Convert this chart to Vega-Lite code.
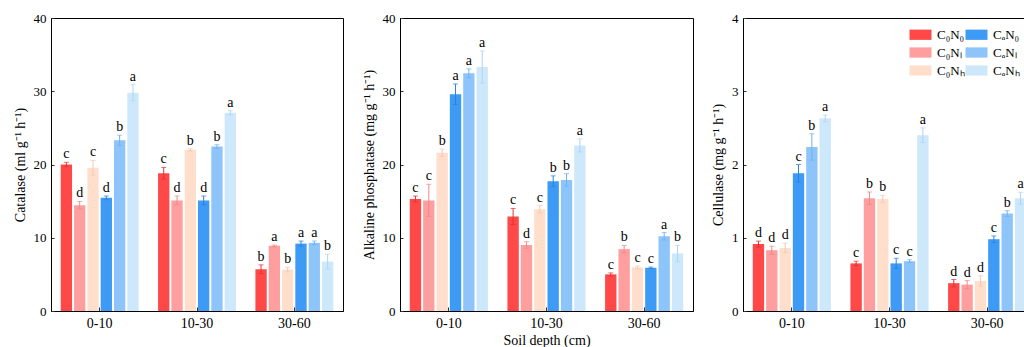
{
  "$schema": "https://vega.github.io/schema/vega-lite/v6.json",
  "background": "white",
  "padding": {"left": 12, "top": 11, "right": 0, "bottom": 0},
  "autosize": {"type": "pad"},
  "config": {
    "font": "Liberation Serif",
    "view": {"stroke": "black", "strokeWidth": 1},
    "axis": {"labelFont": "Liberation Serif", "titleFont": "Liberation Serif", "labelFontSize": 13, "titleFontSize": 14, "titleFontWeight": "normal", "labelColor": "black", "titleColor": "black", "domainColor": "black", "tickColor": "#333333", "grid": false},
    "axisX": {"labelFontSize": 14},
    "legend": {"labelFont": "Liberation Serif", "labelFontSize": 13, "labelColor": "black"},
    "concat": {"spacing": 17}
  },
  "datasets": {
    "d": [
      {"enzyme": "Catalase", "depth": "0-10", "trt": "C₀N₀", "mean": 20.0, "lo": 19.7, "hi": 20.3, "sig": "c"},
      {"enzyme": "Catalase", "depth": "0-10", "trt": "C₀Nₗ", "mean": 14.45, "lo": 13.95, "hi": 14.95, "sig": "d"},
      {"enzyme": "Catalase", "depth": "0-10", "trt": "C₀Nₕ", "mean": 19.55, "lo": 18.55, "hi": 20.55, "sig": "c"},
      {"enzyme": "Catalase", "depth": "0-10", "trt": "CₐN₀", "mean": 15.45, "lo": 15.2, "hi": 15.7, "sig": "d"},
      {"enzyme": "Catalase", "depth": "0-10", "trt": "CₐNₗ", "mean": 23.3, "lo": 22.6, "hi": 24.0, "sig": "b"},
      {"enzyme": "Catalase", "depth": "0-10", "trt": "CₐNₕ", "mean": 29.8, "lo": 28.7, "hi": 30.9, "sig": "a"},
      {"enzyme": "Catalase", "depth": "10-30", "trt": "C₀N₀", "mean": 18.8, "lo": 18.0, "hi": 19.6, "sig": "c"},
      {"enzyme": "Catalase", "depth": "10-30", "trt": "C₀Nₗ", "mean": 15.1, "lo": 14.5, "hi": 15.7, "sig": "d"},
      {"enzyme": "Catalase", "depth": "10-30", "trt": "C₀Nₕ", "mean": 22.0, "lo": 21.85, "hi": 22.15, "sig": "b"},
      {"enzyme": "Catalase", "depth": "10-30", "trt": "CₐN₀", "mean": 15.1, "lo": 14.5, "hi": 15.7, "sig": "d"},
      {"enzyme": "Catalase", "depth": "10-30", "trt": "CₐNₗ", "mean": 22.45, "lo": 22.2, "hi": 22.7, "sig": "b"},
      {"enzyme": "Catalase", "depth": "10-30", "trt": "CₐNₕ", "mean": 27.05, "lo": 26.75, "hi": 27.35, "sig": "a"},
      {"enzyme": "Catalase", "depth": "30-60", "trt": "C₀N₀", "mean": 5.7, "lo": 5.1, "hi": 6.3, "sig": "b"},
      {"enzyme": "Catalase", "depth": "30-60", "trt": "C₀Nₗ", "mean": 8.9, "lo": 8.8, "hi": 9.0, "sig": "a"},
      {"enzyme": "Catalase", "depth": "30-60", "trt": "C₀Nₕ", "mean": 5.65, "lo": 5.35, "hi": 5.95, "sig": "b"},
      {"enzyme": "Catalase", "depth": "30-60", "trt": "CₐN₀", "mean": 9.2, "lo": 8.85, "hi": 9.55, "sig": "a"},
      {"enzyme": "Catalase", "depth": "30-60", "trt": "CₐNₗ", "mean": 9.3, "lo": 9.05, "hi": 9.55, "sig": "a"},
      {"enzyme": "Catalase", "depth": "30-60", "trt": "CₐNₕ", "mean": 6.75, "lo": 5.75, "hi": 7.75, "sig": "b"},
      {"enzyme": "ALP", "depth": "0-10", "trt": "C₀N₀", "mean": 15.3, "lo": 14.9, "hi": 15.7, "sig": "c"},
      {"enzyme": "ALP", "depth": "0-10", "trt": "C₀Nₗ", "mean": 15.1, "lo": 12.9, "hi": 17.3, "sig": "c"},
      {"enzyme": "ALP", "depth": "0-10", "trt": "C₀Nₕ", "mean": 21.6, "lo": 21.1, "hi": 22.1, "sig": "b"},
      {"enzyme": "ALP", "depth": "0-10", "trt": "CₐN₀", "mean": 29.6, "lo": 28.2, "hi": 31.0, "sig": "a"},
      {"enzyme": "ALP", "depth": "0-10", "trt": "CₐNₗ", "mean": 32.45, "lo": 31.85, "hi": 33.05, "sig": "a"},
      {"enzyme": "ALP", "depth": "0-10", "trt": "CₐNₕ", "mean": 33.3, "lo": 31.1, "hi": 35.5, "sig": "a"},
      {"enzyme": "ALP", "depth": "10-30", "trt": "C₀N₀", "mean": 12.9, "lo": 11.8, "hi": 14.0, "sig": "c"},
      {"enzyme": "ALP", "depth": "10-30", "trt": "C₀Nₗ", "mean": 9.0, "lo": 8.55, "hi": 9.45, "sig": "d"},
      {"enzyme": "ALP", "depth": "10-30", "trt": "C₀Nₕ", "mean": 13.9, "lo": 13.4, "hi": 14.4, "sig": "c"},
      {"enzyme": "ALP", "depth": "10-30", "trt": "CₐN₀", "mean": 17.7, "lo": 16.95, "hi": 18.45, "sig": "b"},
      {"enzyme": "ALP", "depth": "10-30", "trt": "CₐNₗ", "mean": 17.9, "lo": 17.05, "hi": 18.75, "sig": "b"},
      {"enzyme": "ALP", "depth": "10-30", "trt": "CₐNₕ", "mean": 22.6, "lo": 21.7, "hi": 23.5, "sig": "a"},
      {"enzyme": "ALP", "depth": "30-60", "trt": "C₀N₀", "mean": 5.0, "lo": 4.8, "hi": 5.2, "sig": "c"},
      {"enzyme": "ALP", "depth": "30-60", "trt": "C₀Nₗ", "mean": 8.45, "lo": 7.95, "hi": 8.95, "sig": "b"},
      {"enzyme": "ALP", "depth": "30-60", "trt": "C₀Nₕ", "mean": 5.95, "lo": 5.75, "hi": 6.15, "sig": "c"},
      {"enzyme": "ALP", "depth": "30-60", "trt": "CₐN₀", "mean": 5.9, "lo": 5.8, "hi": 6.0, "sig": "c"},
      {"enzyme": "ALP", "depth": "30-60", "trt": "CₐNₗ", "mean": 10.2, "lo": 9.7, "hi": 10.7, "sig": "a"},
      {"enzyme": "ALP", "depth": "30-60", "trt": "CₐNₕ", "mean": 7.85, "lo": 6.75, "hi": 8.95, "sig": "b"},
      {"enzyme": "Cellulase", "depth": "0-10", "trt": "C₀N₀", "mean": 0.914, "lo": 0.874, "hi": 0.954, "sig": "d"},
      {"enzyme": "Cellulase", "depth": "0-10", "trt": "C₀Nₗ", "mean": 0.83, "lo": 0.775, "hi": 0.885, "sig": "d"},
      {"enzyme": "Cellulase", "depth": "0-10", "trt": "C₀Nₕ", "mean": 0.86, "lo": 0.795, "hi": 0.925, "sig": "d"},
      {"enzyme": "Cellulase", "depth": "0-10", "trt": "CₐN₀", "mean": 1.88, "lo": 1.76, "hi": 2.0, "sig": "c"},
      {"enzyme": "Cellulase", "depth": "0-10", "trt": "CₐNₗ", "mean": 2.24, "lo": 2.06, "hi": 2.42, "sig": "b"},
      {"enzyme": "Cellulase", "depth": "0-10", "trt": "CₐNₕ", "mean": 2.63, "lo": 2.585, "hi": 2.675, "sig": "a"},
      {"enzyme": "Cellulase", "depth": "10-30", "trt": "C₀N₀", "mean": 0.65, "lo": 0.62, "hi": 0.68, "sig": "c"},
      {"enzyme": "Cellulase", "depth": "10-30", "trt": "C₀Nₗ", "mean": 1.54, "lo": 1.455, "hi": 1.625, "sig": "b"},
      {"enzyme": "Cellulase", "depth": "10-30", "trt": "C₀Nₕ", "mean": 1.53, "lo": 1.48, "hi": 1.58, "sig": "b"},
      {"enzyme": "Cellulase", "depth": "10-30", "trt": "CₐN₀", "mean": 0.65, "lo": 0.58, "hi": 0.72, "sig": "c"},
      {"enzyme": "Cellulase", "depth": "10-30", "trt": "CₐNₗ", "mean": 0.68, "lo": 0.66, "hi": 0.70, "sig": "c"},
      {"enzyme": "Cellulase", "depth": "10-30", "trt": "CₐNₕ", "mean": 2.40, "lo": 2.30, "hi": 2.50, "sig": "a"},
      {"enzyme": "Cellulase", "depth": "30-60", "trt": "C₀N₀", "mean": 0.38, "lo": 0.33, "hi": 0.43, "sig": "d"},
      {"enzyme": "Cellulase", "depth": "30-60", "trt": "C₀Nₗ", "mean": 0.36, "lo": 0.305, "hi": 0.415, "sig": "d"},
      {"enzyme": "Cellulase", "depth": "30-60", "trt": "C₀Nₕ", "mean": 0.41, "lo": 0.34, "hi": 0.48, "sig": "d"},
      {"enzyme": "Cellulase", "depth": "30-60", "trt": "CₐN₀", "mean": 0.98, "lo": 0.935, "hi": 1.025, "sig": "c"},
      {"enzyme": "Cellulase", "depth": "30-60", "trt": "CₐNₗ", "mean": 1.33, "lo": 1.29, "hi": 1.37, "sig": "b"},
      {"enzyme": "Cellulase", "depth": "30-60", "trt": "CₐNₕ", "mean": 1.54, "lo": 1.46, "hi": 1.62, "sig": "a"}
    ]
  },
  "hconcat": [
    {
      "width": 292, "height": 293,
      "data": {"name": "d"},
      "transform": [{"filter": "datum.enzyme === 'Catalase'"}],
      "encoding": {
        "x": {"field": "depth", "type": "nominal", "sort": ["0-10", "10-30", "30-60"], "scale": {"paddingInner": 0.2, "paddingOuter": 0.1}, "axis": {"title": null, "labelAngle": 0, "tickSize": -4, "labelPadding": 9}},
        "xOffset": {"field": "trt", "type": "nominal", "scale": {"domain": ["C₀N₀", "C₀Nₗ", "C₀Nₕ", "CₐN₀", "CₐNₗ", "CₐNₕ"], "paddingInner": 0.15, "paddingOuter": 0}}
      },
      "layer": [
        {"mark": {"type": "bar"}, "encoding": {
          "y": {"field": "mean", "type": "quantitative", "title": "Catalase (ml g⁻¹ h⁻¹)", "scale": {"domain": [0, 40]}, "axis": {"title": "Catalase (ml g⁻¹ h⁻¹)", "values": [0, 5, 10, 15, 20, 25, 30, 35, 40], "labelExpr": "datum.value % 10 === 0 ? datum.label : ''", "tickSize": -3, "labelPadding": 8, "titlePadding": 6}},
          "color": {"field": "trt", "type": "nominal", "scale": {"domain": ["C₀N₀", "C₀Nₗ", "C₀Nₕ", "CₐN₀", "CₐNₗ", "CₐNₕ"], "range": ["#ff4848", "#ff9e9e", "#ffdfcc", "#3d9af5", "#8dc5fa", "#cde7fb"]}, "legend": null}}},
        {"mark": {"type": "rule", "strokeWidth": 1}, "encoding": {
          "y": {"field": "lo", "type": "quantitative", "title": "Catalase (ml g⁻¹ h⁻¹)"}, "y2": {"field": "hi"},
          "stroke": {"field": "trt", "type": "nominal", "scale": {"domain": ["C₀N₀", "C₀Nₗ", "C₀Nₕ", "CₐN₀", "CₐNₗ", "CₐNₕ"], "range": ["#e03030", "#f08888", "#f5c8b0", "#2a82e0", "#70b0f0", "#aed6f5"]}, "legend": null}}},
        {"mark": {"type": "tick", "thickness": 1, "size": 5}, "encoding": {
          "y": {"field": "hi", "type": "quantitative", "title": "Catalase (ml g⁻¹ h⁻¹)"},
          "fill": {"field": "trt", "type": "nominal", "scale": {"domain": ["C₀N₀", "C₀Nₗ", "C₀Nₕ", "CₐN₀", "CₐNₗ", "CₐNₕ"], "range": ["#e03030", "#f08888", "#f5c8b0", "#2a82e0", "#70b0f0", "#aed6f5"]}, "legend": null}}},
        {"mark": {"type": "tick", "thickness": 1, "size": 5}, "encoding": {
          "y": {"field": "lo", "type": "quantitative", "title": "Catalase (ml g⁻¹ h⁻¹)"},
          "fill": {"field": "trt", "type": "nominal", "legend": null}}},
        {"mark": {"type": "text", "baseline": "alphabetic", "dy": -4, "fontSize": 14, "color": "black"}, "encoding": {
          "y": {"field": "hi", "type": "quantitative", "title": "Catalase (ml g⁻¹ h⁻¹)"}, "text": {"field": "sig"}}}
      ]
    },
    {
      "width": 293, "height": 293,
      "data": {"name": "d"},
      "transform": [{"filter": "datum.enzyme === 'ALP'"}],
      "encoding": {
        "x": {"field": "depth", "type": "nominal", "sort": ["0-10", "10-30", "30-60"], "scale": {"paddingInner": 0.2, "paddingOuter": 0.1}, "axis": {"title": "Soil depth (cm)", "labelAngle": 0, "tickSize": -4, "labelPadding": 9, "titlePadding": 3}},
        "xOffset": {"field": "trt", "type": "nominal", "scale": {"domain": ["C₀N₀", "C₀Nₗ", "C₀Nₕ", "CₐN₀", "CₐNₗ", "CₐNₕ"], "paddingInner": 0.15, "paddingOuter": 0}}
      },
      "layer": [
        {"mark": {"type": "bar"}, "encoding": {
          "y": {"field": "mean", "type": "quantitative", "title": "Alkaline phosphatase (mg g⁻¹ h⁻¹)", "scale": {"domain": [0, 40]}, "axis": {"title": "Alkaline phosphatase (mg g⁻¹ h⁻¹)", "values": [0, 5, 10, 15, 20, 25, 30, 35, 40], "labelExpr": "datum.value % 10 === 0 ? datum.label : ''", "tickSize": -3, "labelPadding": 8, "titlePadding": 6}},
          "color": {"field": "trt", "type": "nominal", "scale": {"domain": ["C₀N₀", "C₀Nₗ", "C₀Nₕ", "CₐN₀", "CₐNₗ", "CₐNₕ"], "range": ["#ff4848", "#ff9e9e", "#ffdfcc", "#3d9af5", "#8dc5fa", "#cde7fb"]}, "legend": null}}},
        {"mark": {"type": "rule", "strokeWidth": 1}, "encoding": {
          "y": {"field": "lo", "type": "quantitative", "title": "Alkaline phosphatase (mg g⁻¹ h⁻¹)"}, "y2": {"field": "hi"},
          "stroke": {"field": "trt", "type": "nominal", "scale": {"domain": ["C₀N₀", "C₀Nₗ", "C₀Nₕ", "CₐN₀", "CₐNₗ", "CₐNₕ"], "range": ["#e03030", "#f08888", "#f5c8b0", "#2a82e0", "#70b0f0", "#aed6f5"]}, "legend": null}}},
        {"mark": {"type": "tick", "thickness": 1, "size": 5}, "encoding": {
          "y": {"field": "hi", "type": "quantitative", "title": "Alkaline phosphatase (mg g⁻¹ h⁻¹)"},
          "fill": {"field": "trt", "type": "nominal", "scale": {"domain": ["C₀N₀", "C₀Nₗ", "C₀Nₕ", "CₐN₀", "CₐNₗ", "CₐNₕ"], "range": ["#e03030", "#f08888", "#f5c8b0", "#2a82e0", "#70b0f0", "#aed6f5"]}, "legend": null}}},
        {"mark": {"type": "tick", "thickness": 1, "size": 5}, "encoding": {
          "y": {"field": "lo", "type": "quantitative", "title": "Alkaline phosphatase (mg g⁻¹ h⁻¹)"},
          "fill": {"field": "trt", "type": "nominal", "legend": null}}},
        {"mark": {"type": "text", "baseline": "alphabetic", "dy": -4, "fontSize": 14, "color": "black"}, "encoding": {
          "y": {"field": "hi", "type": "quantitative", "title": "Alkaline phosphatase (mg g⁻¹ h⁻¹)"}, "text": {"field": "sig"}}}
      ]
    },
    {
      "width": 293, "height": 293,
      "data": {"name": "d"},
      "transform": [{"filter": "datum.enzyme === 'Cellulase'"}],
      "encoding": {
        "x": {"field": "depth", "type": "nominal", "sort": ["0-10", "10-30", "30-60"], "scale": {"paddingInner": 0.2, "paddingOuter": 0.1}, "axis": {"title": null, "labelAngle": 0, "tickSize": -4, "labelPadding": 9}},
        "xOffset": {"field": "trt", "type": "nominal", "scale": {"domain": ["C₀N₀", "C₀Nₗ", "C₀Nₕ", "CₐN₀", "CₐNₗ", "CₐNₕ"], "paddingInner": 0.15, "paddingOuter": 0}}
      },
      "layer": [
        {"mark": {"type": "bar"}, "encoding": {
          "y": {"field": "mean", "type": "quantitative", "title": "Cellulase (mg g⁻¹ h⁻¹)", "scale": {"domain": [0, 4]}, "axis": {"title": "Cellulase (mg g⁻¹ h⁻¹)", "values": [0, 0.5, 1, 1.5, 2, 2.5, 3, 3.5, 4], "labelExpr": "datum.value % 1 === 0 ? format(datum.value, 'd') : ''", "tickSize": -3, "labelPadding": 8, "titlePadding": 6}},
          "color": {"field": "trt", "type": "nominal", "title": null, "scale": {"domain": ["C₀N₀", "C₀Nₗ", "C₀Nₕ", "CₐN₀", "CₐNₗ", "CₐNₕ"], "range": ["#ff4848", "#ff9e9e", "#ffdfcc", "#3d9af5", "#8dc5fa", "#cde7fb"]},
            "legend": {"orient": "none", "legendX": 170, "legendY": 9, "columns": 2, "symbolType": "M-1.5,-0.7H1.5V0.7H-1.5Z", "symbolSize": 215, "symbolStrokeWidth": 0, "labelOffset": 9, "columnPadding": 0, "rowPadding": 3, "padding": 0}}}},
        {"mark": {"type": "rule", "strokeWidth": 1}, "encoding": {
          "y": {"field": "lo", "type": "quantitative", "title": "Cellulase (mg g⁻¹ h⁻¹)"}, "y2": {"field": "hi"},
          "stroke": {"field": "trt", "type": "nominal", "scale": {"domain": ["C₀N₀", "C₀Nₗ", "C₀Nₕ", "CₐN₀", "CₐNₗ", "CₐNₕ"], "range": ["#e03030", "#f08888", "#f5c8b0", "#2a82e0", "#70b0f0", "#aed6f5"]}, "legend": null}}},
        {"mark": {"type": "tick", "thickness": 1, "size": 5}, "encoding": {
          "y": {"field": "hi", "type": "quantitative", "title": "Cellulase (mg g⁻¹ h⁻¹)"},
          "fill": {"field": "trt", "type": "nominal", "scale": {"domain": ["C₀N₀", "C₀Nₗ", "C₀Nₕ", "CₐN₀", "CₐNₗ", "CₐNₕ"], "range": ["#e03030", "#f08888", "#f5c8b0", "#2a82e0", "#70b0f0", "#aed6f5"]}, "legend": null}}},
        {"mark": {"type": "tick", "thickness": 1, "size": 5}, "encoding": {
          "y": {"field": "lo", "type": "quantitative", "title": "Cellulase (mg g⁻¹ h⁻¹)"},
          "fill": {"field": "trt", "type": "nominal", "legend": null}}},
        {"mark": {"type": "text", "baseline": "alphabetic", "dy": -4, "fontSize": 14, "color": "black"}, "encoding": {
          "y": {"field": "hi", "type": "quantitative", "title": "Cellulase (mg g⁻¹ h⁻¹)"}, "text": {"field": "sig"}}}
      ]
    }
  ],
  "resolve": {"scale": {"y": "independent", "color": "independent", "x": "independent", "xOffset": "independent", "stroke": "independent", "fill": "independent"}, "legend": {"color": "independent"}}
}
